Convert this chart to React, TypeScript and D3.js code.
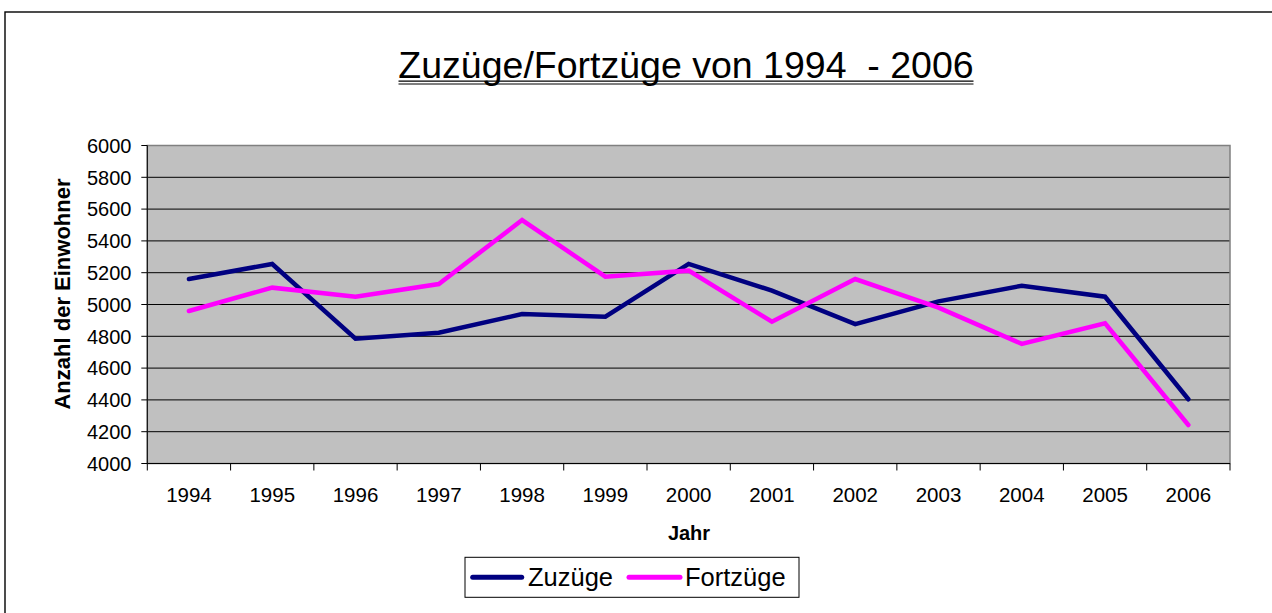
import React from "react";
import * as d3 from "d3";

const years = ["1994", "1995", "1996", "1997", "1998", "1999", "2000", "2001", "2002", "2003", "2004", "2005", "2006"];
const zuzuege = [5160, 5255, 4785, 4823, 4940, 4923, 5255, 5087, 4877, 5020, 5118, 5049, 4404];
const fortzuege = [4959, 5106, 5049, 5129, 5531, 5175, 5213, 4892, 5160, 4980, 4752, 4882, 4242];
const yTicks = [4000, 4200, 4400, 4600, 4800, 5000, 5200, 5400, 5600, 5800, 6000];
const seriesNames = ["Zuzüge", "Fortzüge"];
const seriesColors = ["#000080", "#FF00FF"];

const FONT = "'Liberation Sans', Arial, Helvetica, sans-serif";

export default function App() {
  const W = 1272, H = 613;
  const left = 147.3, right = 1230, top = 145.5, bottom = 463.5;
  const x = d3.scaleBand<string>().domain(years).range([left, right]).padding(0);
  const y = d3.scaleLinear().domain([4000, 6000]).range([bottom, top]);
  const cx = (d: string) => (x(d) as number) + x.bandwidth() / 2;
  const line = d3
    .line<number>()
    .x((_, i) => cx(years[i]))
    .y((v) => y(v));
  const series = [zuzuege, fortzuege];
  const boundaries = years.map((d) => x(d) as number).concat([right]);

  const title = "Zuzüge/Fortzüge von 1994  - 2006";
  const titleX = 686;
  const titleW = 575;

  return (
    <svg width={W} height={H} style={{ position: "absolute", left: 0, top: 0, background: "#fff" }} fontFamily={FONT}>
      <rect x={0} y={0} width={W} height={H} fill="#fff" />
      <rect x={5} y={12} width={1400} height={800} fill="none" stroke="#000" strokeWidth={1.4} />
      {/* title */}
      <text x={titleX} y={77.7} textAnchor="middle" fontSize={37.5} fill="#000" style={{ whiteSpace: "pre" }}>
        {title}
      </text>
      <line x1={titleX - titleW / 2} x2={titleX + titleW / 2} y1={81.2} y2={81.2} stroke="#000" strokeWidth={1.2} />
      <line x1={titleX - titleW / 2} x2={titleX + titleW / 2} y1={84} y2={84} stroke="#000" strokeWidth={1.2} />
      {/* plot area */}
      <rect x={left} y={top} width={right - left} height={bottom - top} fill="#C0C0C0" />
      {yTicks.map((t) =>
        t === 4000 || t === 6000 ? null : (
          <line key={"g" + t} x1={left} x2={right} y1={y(t)} y2={y(t)} stroke="#000" strokeWidth={1} />
        )
      )}
      <rect x={left} y={top} width={right - left} height={bottom - top} fill="none" stroke="#808080" strokeWidth={1.5} />
      {/* axes */}
      <line x1={left} x2={left} y1={top} y2={bottom} stroke="#000" strokeWidth={1} />
      <line x1={left} x2={right} y1={bottom} y2={bottom} stroke="#000" strokeWidth={1} />
      {yTicks.map((t) => (
        <g key={"yt" + t}>
          <line x1={left - 6} x2={left} y1={y(t)} y2={y(t)} stroke="#000" strokeWidth={1} />
          <text x={131.5} y={y(t) + 7.2} textAnchor="end" fontSize={20} fill="#000">
            {t}
          </text>
        </g>
      ))}
      {boundaries.map((b, i) => (
        <line key={"xt" + i} x1={b} x2={b} y1={bottom} y2={bottom + 7} stroke="#000" strokeWidth={1} />
      ))}
      {years.map((d) => (
        <text key={"xl" + d} x={cx(d)} y={502.3} textAnchor="middle" fontSize={20.5} fill="#000">
          {d}
        </text>
      ))}
      <text x={689} y={540} textAnchor="middle" fontSize={20} fontWeight="bold" fill="#000">
        Jahr
      </text>
      <text
        transform={`translate(69.5, ${294}) rotate(-90)`}
        textAnchor="middle"
        fontSize={22}
        fontWeight="bold"
        fill="#000"
      >
        Anzahl der Einwohner
      </text>
      {/* series */}
      {series.map((s, i) => (
        <path
          key={"s" + i}
          d={line(s) || ""}
          fill="none"
          stroke={seriesColors[i]}
          strokeWidth={4.5}
          strokeLinejoin="miter"
          strokeLinecap="round"
        />
      ))}
      {/* legend */}
      <rect x={465} y={557.3} width={334} height={40} fill="#fff" stroke="#000" strokeWidth={1} />
      <line x1={472.7} x2={521.7} y1={577.3} y2={577.3} stroke={seriesColors[0]} strokeWidth={5} strokeLinecap="round" />
      <text x={528} y={586} fontSize={25.5} fill="#000">
        {seriesNames[0]}
      </text>
      <line x1={629} x2={680} y1={577.3} y2={577.3} stroke={seriesColors[1]} strokeWidth={5} strokeLinecap="round" />
      <text x={685} y={586} fontSize={25.5} fill="#000">
        {seriesNames[1]}
      </text>
    </svg>
  );
}
